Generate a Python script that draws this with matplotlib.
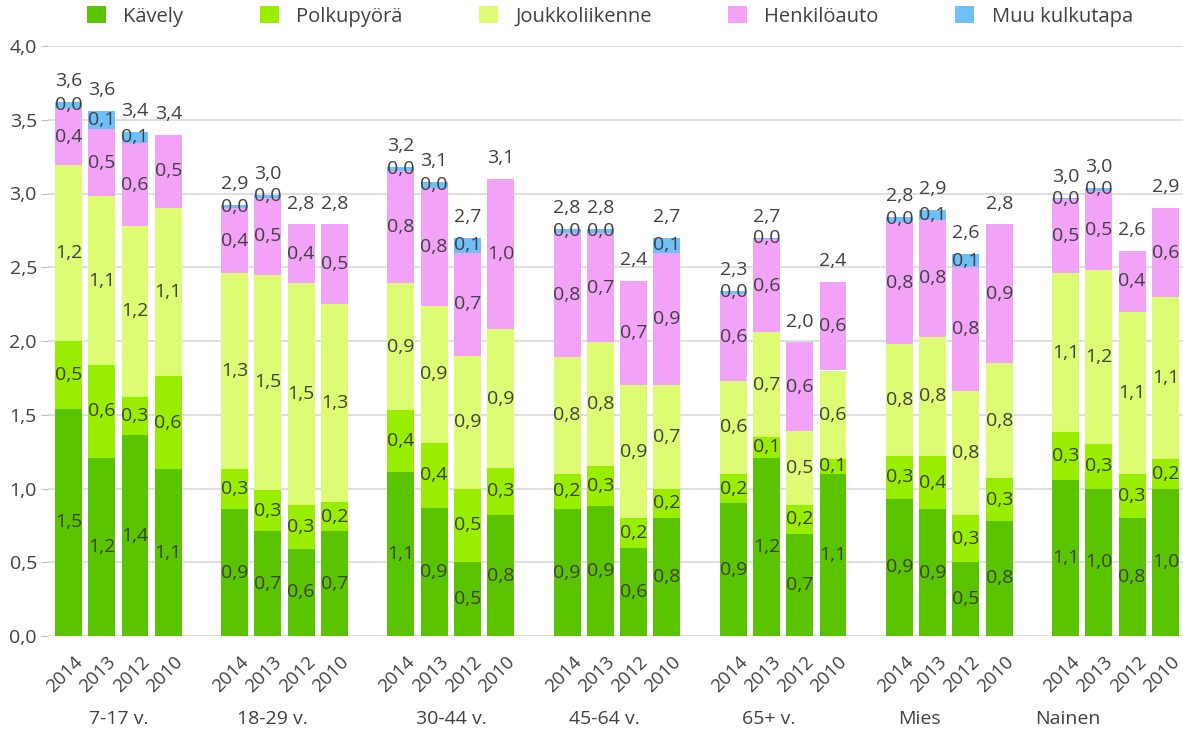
import matplotlib
matplotlib.use("Agg")
import matplotlib.pyplot as plt
from matplotlib.patches import Patch

plt.rcParams['font.family'] = ['Open Sans', 'DejaVu Sans']

groups = ["7-17 v.", "18-29 v.", "30-44 v.", "45-64 v.", "65+ v.", "Mies", "Nainen"]
years = ["2014", "2013", "2012", "2010"]
series = ["Kävely", "Polkupyörä", "Joukkoliikenne", "Henkilöauto", "Muu kulkutapa"]

kavely = [1.54, 1.21, 1.36, 1.13,
          0.86, 0.71, 0.59, 0.71,
          1.11, 0.87, 0.50, 0.82,
          0.86, 0.88, 0.60, 0.80,
          0.90, 1.21, 0.69, 1.10,
          0.93, 0.86, 0.50, 0.78,
          1.06, 1.00, 0.80, 1.00]
polkupyora = [0.46, 0.63, 0.26, 0.63,
              0.27, 0.28, 0.30, 0.20,
              0.42, 0.44, 0.50, 0.32,
              0.24, 0.27, 0.20, 0.20,
              0.20, 0.14, 0.20, 0.10,
              0.29, 0.36, 0.32, 0.29,
              0.32, 0.30, 0.30, 0.20]
joukkoliikenne = [1.19, 1.14, 1.16, 1.14,
                  1.33, 1.46, 1.50, 1.34,
                  0.86, 0.93, 0.90, 0.94,
                  0.79, 0.84, 0.90, 0.70,
                  0.63, 0.71, 0.50, 0.60,
                  0.76, 0.81, 0.84, 0.78,
                  1.08, 1.18, 1.10, 1.10]
henkiloauto = [0.39, 0.46, 0.56, 0.50,
               0.44, 0.52, 0.40, 0.54,
               0.76, 0.80, 0.70, 1.02,
               0.84, 0.74, 0.71, 0.90,
               0.59, 0.63, 0.60, 0.60,
               0.83, 0.79, 0.84, 0.94,
               0.50, 0.54, 0.41, 0.60]
muu = [0.04, 0.12, 0.08, 0.0,
       0.02, 0.02, 0.0, 0.0,
       0.03, 0.04, 0.10, 0.0,
       0.03, 0.03, 0.0, 0.10,
       0.02, 0.01, 0.0, 0.0,
       0.03, 0.07, 0.09, 0.0,
       0.01, 0.02, 0.0, 0.0]

colors = ["#5bc400", "#99ee00", "#ddfc74", "#f3a3f7", "#6fbff9"]
data = [kavely, polkupyora, joukkoliikenne, henkiloauto, muu]

W, H = 1183, 733
fig = plt.figure(figsize=(W / 100, H / 100), dpi=100)
ax = fig.add_axes([48 / W, 97 / H, (W - 48) / W, 590 / H])

xs = [g * 5 + i for g in range(len(groups)) for i in range(len(years))]
bw = 0.81
label_color = "#404040"
fs = 14

bottoms = [0.0] * len(xs)
for vals, col, name in zip(data, colors, series):
    ax.bar(xs, vals, bw, bottom=bottoms, color=col, label=name, zorder=2)
    for x, v, b in zip(xs, vals, bottoms):
        if v > 0:
            ax.text(x, b + v / 2, f"{v:.1f}".replace(".", ","), ha="center", va="center",
                    fontsize=fs, color=label_color, zorder=3)
    bottoms = [b + v for b, v in zip(bottoms, vals)]

for x, t in zip(xs, bottoms):
    ax.annotate(f"{t:.1f}".replace(".", ","), (x, t), xytext=(0, 8.5), textcoords="offset points",
                ha="center", va="bottom", fontsize=fs, color=label_color)

ax.set_ylim(0, 4.0)
ax.set_xlim(-0.617, 33.53)
yt = [i * 0.5 for i in range(9)]
ax.set_yticks(yt)
ax.set_yticklabels([f"{v:.1f}".replace(".", ",") for v in yt], fontsize=fs, color=label_color)
ax.tick_params(axis="y", length=5, color="#bfbfbf", pad=3)
ax.set_xticks([])
ax.grid(axis="y", color="#d9d9d9", linewidth=1.2, zorder=0)
ax.set_axisbelow(True)
for s in ax.spines.values():
    s.set_visible(False)

# year labels
for x, yr in zip(xs, years * len(groups)):
    ax.text(x + 0.15, -0.028, yr, transform=ax.get_xaxis_transform(), rotation=45,
            ha="right", va="top", rotation_mode="anchor", fontsize=13.5, color=label_color)

# group labels
group_x = [1.5, 6.12, 11.52, 16.11, 21.07, 25.6, 30.07]
for gx, gname in zip(group_x, groups):
    ax.text(gx, -0.14, gname, transform=ax.get_xaxis_transform(), ha="center", va="center",
            fontsize=fs, color=label_color)

handles = [Patch(facecolor=c, edgecolor="none") for c in colors]
fig.legend(handles, series, loc="upper left", bbox_to_anchor=(87 / W, 1 - 6 / H), ncol=5,
           frameon=False, fontsize=14.5, handlelength=0.95, handleheight=0.95, handletextpad=0.85,
           columnspacing=3.8, borderpad=0, borderaxespad=0, labelcolor=label_color)

fig.savefig("out.png", dpi=100)
